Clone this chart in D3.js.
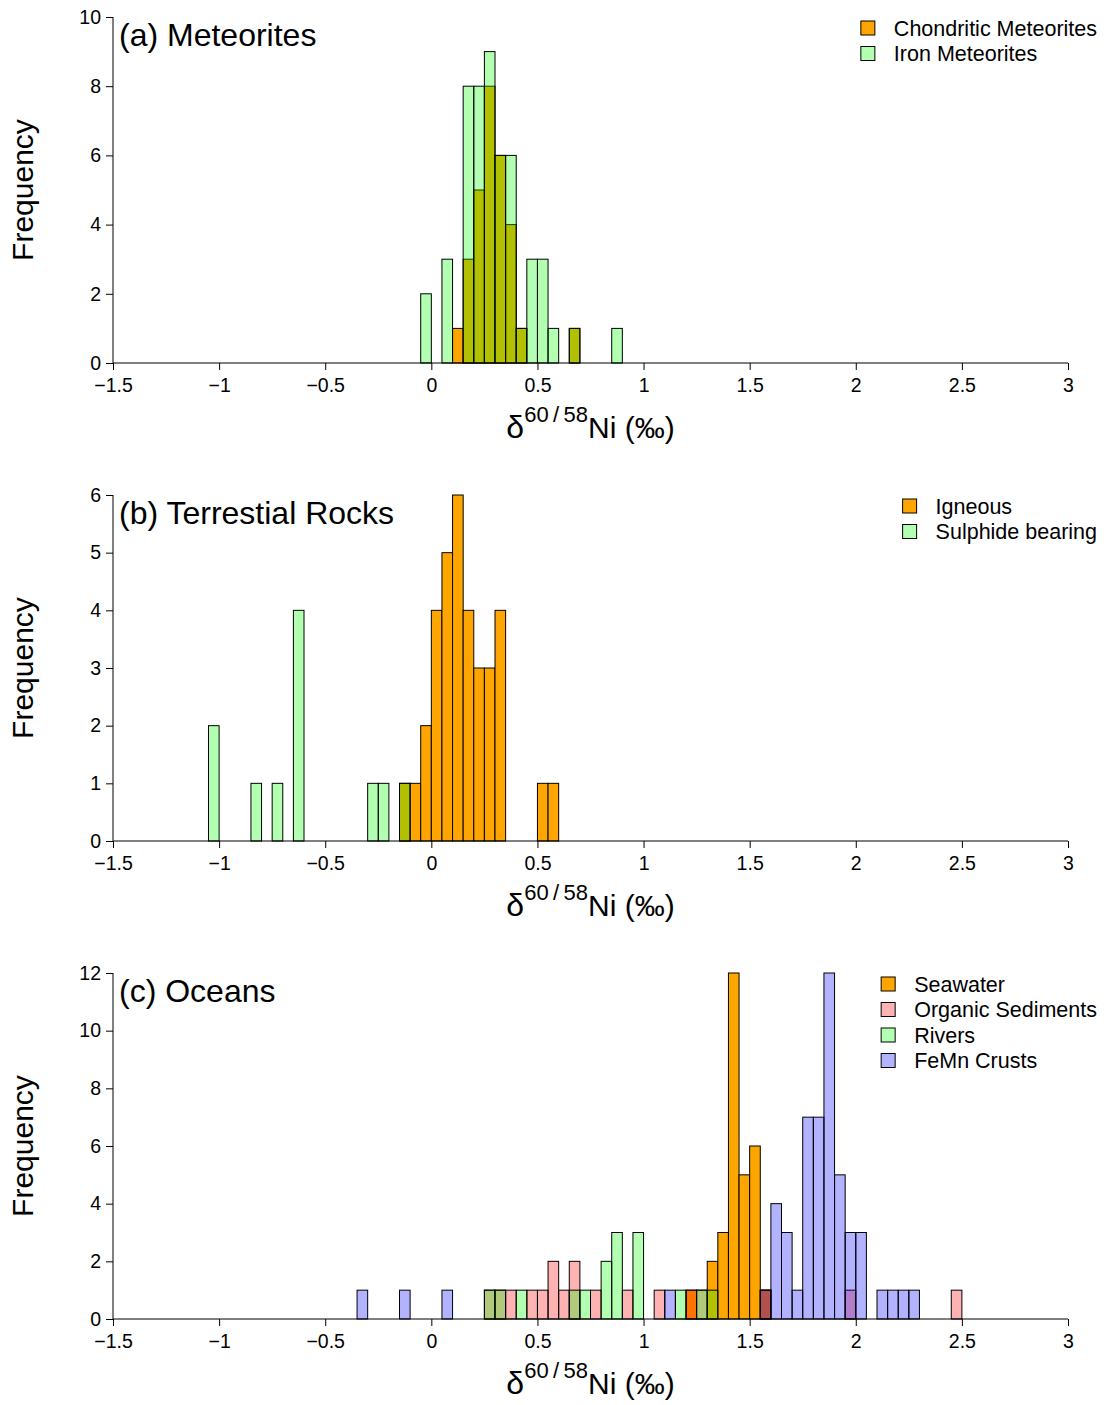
<!DOCTYPE html>
<html>
<head>
<meta charset="utf-8">
<script src="https://cdn.jsdelivr.net/npm/d3@7"></script>
<style>
  html, body { margin: 0; padding: 0; background: #fff; }
  svg { display: block; font-family: "Liberation Sans", Arial, Helvetica, sans-serif; }
</style>
</head>
<body>
<svg id="chart" width="1111" height="1405"></svg>
<script>
// ---------- data (bin start in ‰, bin width 0.05) ----------
const binWidth = 0.05;
const xTicks = [-1.5, -1, -0.5, 0, 0.5, 1, 1.5, 2, 2.5, 3];

// (a) Meteorites
const chondriticBins   = [0.10, 0.15, 0.20, 0.25, 0.30, 0.35, 0.40, 0.65];
const chondriticCounts = [1, 3, 5, 8, 6, 4, 1, 1];
const ironBins   = [-0.05, 0.05, 0.15, 0.20, 0.25, 0.30, 0.35, 0.40, 0.45, 0.50, 0.55, 0.65, 0.85];
const ironCounts = [2, 3, 8, 8, 9, 6, 6, 1, 3, 3, 1, 1, 1];
const aYTicks = [0, 2, 4, 6, 8, 10];

// (b) Terrestial Rocks
const igneousBins   = [-0.15, -0.10, -0.05, 0.00, 0.05, 0.10, 0.15, 0.20, 0.25, 0.30, 0.50, 0.55];
const igneousCounts = [1, 1, 2, 4, 5, 6, 4, 3, 3, 4, 1, 1];
const sulphideBins   = [-1.05, -0.85, -0.75, -0.65, -0.30, -0.25, -0.15];
const sulphideCounts = [2, 1, 1, 4, 1, 1, 1];
const bYTicks = [0, 1, 2, 3, 4, 5, 6];

// (c) Oceans
const seawaterBins   = [1.20, 1.30, 1.35, 1.40, 1.45, 1.50, 1.55];
const seawaterCounts = [1, 2, 3, 12, 5, 6, 1];
const organicBins   = [0.25, 0.30, 0.35, 0.45, 0.50, 0.55, 0.60, 0.65, 0.75, 0.90, 1.05, 1.20, 1.25, 1.55, 1.95, 2.45];
const organicCounts = [1, 1, 1, 1, 1, 2, 1, 2, 1, 1, 1, 1, 1, 1, 1, 1];
const riversBins   = [0.25, 0.30, 0.40, 0.65, 0.70, 0.80, 0.85, 0.95, 1.15, 1.25, 1.30];
const riversCounts = [1, 1, 1, 1, 1, 2, 3, 3, 1, 1, 1];
const femnBins   = [-0.35, -0.15, 0.05, 1.10, 1.55, 1.60, 1.65, 1.70, 1.75, 1.80, 1.85, 1.90, 1.95, 2.00, 2.10, 2.15, 2.20, 2.25];
const femnCounts = [1, 1, 1, 1, 1, 4, 3, 1, 7, 7, 12, 5, 3, 3, 1, 1, 1, 1];
const cYTicks = [0, 2, 4, 6, 8, 10, 12];

// ---------- styling ----------
const colOrange = "rgb(255,165,0)";
const colRed    = "rgba(255,0,0,0.3)";
const colGreen  = "rgba(0,255,0,0.3)";
const colBlue   = "rgba(0,0,255,0.3)";

const panels = [
  { title: "(a) Meteorites", yMax: 10, yTicks: aYTicks,
    series: [
      { name: "Chondritic Meteorites", bins: chondriticBins, counts: chondriticCounts, fill: colOrange },
      { name: "Iron Meteorites", bins: ironBins, counts: ironCounts, fill: colGreen }
    ] },
  { title: "(b) Terrestial Rocks", yMax: 6, yTicks: bYTicks,
    series: [
      { name: "Igneous", bins: igneousBins, counts: igneousCounts, fill: colOrange },
      { name: "Sulphide bearing", bins: sulphideBins, counts: sulphideCounts, fill: colGreen }
    ] },
  { title: "(c) Oceans", yMax: 12, yTicks: cYTicks,
    series: [
      { name: "Seawater", bins: seawaterBins, counts: seawaterCounts, fill: colOrange },
      { name: "Organic Sediments", bins: organicBins, counts: organicCounts, fill: colRed },
      { name: "Rivers", bins: riversBins, counts: riversCounts, fill: colGreen },
      { name: "FeMn Crusts", bins: femnBins, counts: femnCounts, fill: colBlue }
    ] }
];

const svg = d3.select("#chart");
const plotLeft = 113, plotRight = 1068, plotH = 346, panelStep = 478, firstTop = 17;
const x = d3.scaleLinear().domain([-1.5, 3]).range([plotLeft, plotRight]);
const fmt = v => (v < 0 ? "\u2212" + Math.abs(v) : String(v));

panels.forEach((p, i) => {
  const top = firstTop + i * panelStep;
  const bottom = top + plotH;
  const y = d3.scaleLinear().domain([0, p.yMax]).range([bottom, top]);
  const g = svg.append("g");

  // bars
  p.series.forEach(s => {
    const data = s.bins.map((b, k) => ({ x0: b, n: s.counts[k] }));
    g.append("g").selectAll("rect").data(data).join("rect")
      .attr("x", d => x(d.x0))
      .attr("y", d => y(d.n))
      .attr("width", d => x(d.x0 + binWidth) - x(d.x0))
      .attr("height", d => y(0) - y(d.n))
      .attr("fill", s.fill)
      .attr("stroke", "#000")
      .attr("stroke-width", 1);
  });

  // x axis (drawn on the baseline)
  const xAxis = d3.axisBottom(x).tickValues(xTicks).tickFormat(fmt).tickSize(7).tickPadding(8);
  const gx = g.append("g").attr("transform", `translate(0,${bottom})`).call(xAxis);
  gx.select(".domain").attr("stroke", "#000").attr("d", `M${plotLeft},0H${plotRight}`);
  gx.selectAll(".tick line").attr("stroke", "#000");
  gx.selectAll(".tick text").attr("font-size", 19.5).attr("fill", "#000")
    .attr("font-family", '"Liberation Sans", Arial, sans-serif');

  // y axis
  const yAxis = d3.axisLeft(y).tickValues(p.yTicks).tickFormat(d3.format("d")).tickSize(7).tickPadding(5);
  const gy = g.append("g").attr("transform", `translate(${plotLeft},0)`).call(yAxis);
  gy.select(".domain").attr("stroke", "#000").attr("d", `M0,${bottom}V${top}`);
  gy.selectAll(".tick line").attr("stroke", "#000");
  gy.selectAll(".tick text").attr("font-size", 19.5).attr("fill", "#000")
    .attr("font-family", '"Liberation Sans", Arial, sans-serif');

  // y label
  g.append("text")
    .attr("transform", `translate(33,${(top + bottom) / 2}) rotate(-90)`)
    .attr("text-anchor", "middle")
    .attr("font-size", 30)
    .text("Frequency");

  // title
  g.append("text")
    .attr("x", 119).attr("y", top + 29)
    .attr("font-size", 32)
    .text(p.title);

  // x label
  const xl = g.append("text")
    .attr("x", (plotLeft + plotRight) / 2).attr("y", bottom + 75)
    .attr("text-anchor", "middle")
    .attr("font-size", 30);
  xl.append("tspan").attr("font-size", 32).text("\u03B4");
  xl.append("tspan").attr("font-size", 22).attr("dy", -16).text("60\u2009/\u200958");
  xl.append("tspan").attr("dy", 16).text("Ni (\u2030)");

  // legend, right-aligned at x=1097
  const leg = g.append("g");
  const rowH = 25.5;
  const items = leg.selectAll("g").data(p.series).join("g")
    .attr("transform", (d, k) => `translate(0,${top + 11 + k * rowH})`);
  items.append("text")
    .attr("x", 0).attr("y", 0).attr("dy", "0.35em")
    .attr("font-size", 21.5)
    .text(d => d.name);
  let maxW = 0;
  items.selectAll("text").each(function () { maxW = Math.max(maxW, this.getComputedTextLength()); });
  const textX = 1097 - maxW;
  items.select("text").attr("x", textX);
  items.insert("rect", "text")
    .attr("x", textX - 33).attr("y", -7)
    .attr("width", 14).attr("height", 14)
    .attr("fill", d => d.fill)
    .attr("stroke", "#000").attr("stroke-width", 1);
});
</script>
</body>
</html>
